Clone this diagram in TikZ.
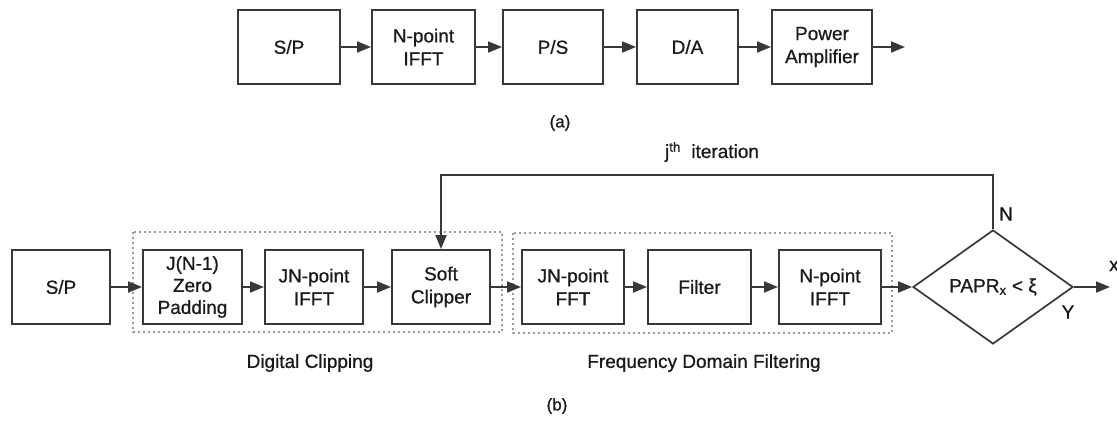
\documentclass[tikz,border=0pt]{standalone}
\usepackage{fontspec}
\setmainfont{Liberation Sans}[FakeBold=0.8]
\usetikzlibrary{arrows.meta,shapes.geometric}
\definecolor{linec}{HTML}{383838}
\definecolor{txtc}{HTML}{1A1A1A}
\definecolor{dotc}{HTML}{9A9A9A}
\begin{document}
\begin{tikzpicture}[x=1pt,y=-1pt,
  blk/.style={draw=linec, line width=2pt, minimum height=74pt, inner sep=0pt, align=center, font=\fontsize{19}{23}\selectfont, text=txtc},
  dec/.style={draw=linec, line width=1.7pt, shape=diamond, minimum width=160pt, minimum height=114pt, inner sep=0pt, font=\fontsize{19}{23}\selectfont, text=txtc},
  arr/.style={draw=linec, line width=2pt, -{Triangle[length=14pt,width=11pt]}},
  grp/.style={draw=dotc, line width=1.6pt, dash pattern=on 1.6pt off 3.4pt},
  lbl/.style={font=\fontsize{19}{23}\selectfont, text=txtc, inner sep=0pt},
  figcap/.style={font=\fontsize{17}{20}\selectfont, text=txtc, inner sep=0pt}]
\useasboundingbox (0,0) rectangle (1117,421);

% ---- (a) ----
\node[blk, minimum width=102pt] (sp1) at (289,47) {S/P};
\node[blk, minimum width=103pt] (if1) at (423.5,47) {N-point\\IFFT};
\node[blk, minimum width=100pt] (ps1) at (553,47) {P/S};
\node[blk, minimum width=101pt] (da1) at (687.5,47) {D/A};
\node[blk, minimum width=100pt] (pa1) at (822,47) {Power\\Amplifier};
\coordinate (out1) at (905,47);
\draw[arr] (sp1) -- (if1);
\draw[arr] (if1) -- (ps1);
\draw[arr] (ps1) -- (da1);
\draw[arr] (da1) -- (pa1);
\draw[arr] (pa1) -- (out1);
\node[figcap] (capa) at (560,123) {(a)};

% ---- (b) ----
\draw[grp] (133,232) rectangle (502,332);
\draw[grp] (513,233) rectangle (892,333);

\node[blk, minimum width=98pt] (sp2) at (61,287) {S/P};
\node[blk, minimum width=99pt, font=\fontsize{19}{22}\selectfont] (zp) at (192.5,287) {J(N-1)\\Zero\\Padding};
\node[blk, minimum width=98pt] (if2) at (314,287) {JN-point\\IFFT};
\node[blk, minimum width=98pt] (sc) at (441,287) {Soft\\Clipper};
\node[blk, minimum width=102pt] (fft) at (573,287) {JN-point\\FFT};
\node[blk, minimum width=103pt] (flt) at (699.5,287) {Filter};
\node[blk, minimum width=102pt] (if3) at (830,287) {N-point\\IFFT};
\node[dec] (papr) at (993,287) {PAPR\textsubscript{x} < ξ};
\coordinate (out2) at (1110,287);
\coordinate (fb) at (0,175);

\draw[arr] (sp2) -- (zp);
\draw[arr] (zp) -- (if2);
\draw[arr] (if2) -- (sc);
\draw[arr] (sc) -- (fft);
\draw[arr] (fft) -- (flt);
\draw[arr] (flt) -- (if3);
\draw[arr] (if3.east) -- (papr.west);
\draw[arr] (papr.east) -- (out2);
\draw[arr] (papr.north) -- (papr.north |- fb) -| (sc.north);

\node[lbl] (dclab) at (310,363) {Digital Clipping};
\node[lbl] (fdlab) at (704,363) {Frequency Domain Filtering};
\node[lbl] (itlab) at (712,152) {j\textsuperscript{th}\ \ iteration};
\node[lbl] (nlab) at (1006,214) {N};
\node[lbl] (ylab) at (1068,312) {Y};
\node[lbl, anchor=west] (xlab) at (1109,266) {x};
\node[figcap] (capb) at (557,406) {(b)};
\end{tikzpicture}
\end{document}
